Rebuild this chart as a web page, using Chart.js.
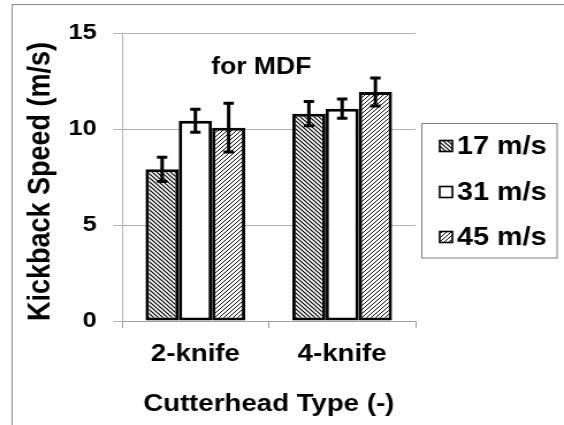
<!DOCTYPE html>
<html>
<head>
<meta charset="utf-8">
<script src="https://cdn.jsdelivr.net/npm/chart.js@4"></script>
<style>
  html, body { margin: 0; padding: 0; background: #fff; }
  /* the source picture is an Excel chart stretched sideways, so draw narrow and stretch */
  #chart { width: 564px; height: 425px; }
</style>
</head>
<body>
<canvas id="chart" width="490" height="425" style="width:564px;height:425px"></canvas>
<script>
// ---------------- data ----------------
const categories = ['2-knife', '4-knife'];
const speedLabels = ['17 m/s', '31 m/s', '45 m/s'];
const mean17 = [7.9, 10.8];
const err17 = [0.63, 0.63];
const mean31 = [10.43, 11.06];
const err31 = [0.6, 0.5];
const mean45 = [10.07, 11.93];
const err45 = [1.27, 0.73];
const yTicks = [0, 5, 10, 15];

const FONT = "'Liberation Sans', Arial, sans-serif";

// hatch fills like the excel patterns
function makeHatch(dir, lw) {
    let c = document.createElement('canvas');
    c.width = 4; c.height = 4;
    let g = c.getContext('2d');
    g.fillStyle = '#fff';
    g.fillRect(0, 0, 4, 4);
    g.strokeStyle = '#000';
    g.lineWidth = lw;
    g.beginPath();
    if (dir === 'down') {
        g.moveTo(-1, -1); g.lineTo(5, 5);
        g.moveTo(-1, 3); g.lineTo(1, 5);
        g.moveTo(3, -1); g.lineTo(5, 1);
    } else {
        g.moveTo(-1, 5); g.lineTo(5, -1);
        g.moveTo(-1, 1); g.lineTo(1, -1);
        g.moveTo(3, 5); g.lineTo(5, 3);
    }
    g.stroke();
    return g.createPattern(c, 'repeat');
}

const fills = [makeHatch('down', 1.15), '#ffffff', makeHatch('up', 0.95)];
const errors = [err17, err31, err45];

// ---------------- plugins ----------------
const framePlugin = {
    id: 'frame',
    beforeDraw(chart) {
        let ctx = chart.ctx;
        ctx.save();
        ctx.fillStyle = '#fff';
        ctx.fillRect(0, 0, chart.width, chart.height);
        ctx.strokeStyle = '#8c8c8c';
        ctx.lineWidth = 1;
        ctx.strokeRect(10.5, 4.5, 600, 500);
        ctx.restore();
    }
};

const errorBarPlugin = {
    id: 'errorBars',
    afterDatasetsDraw(chart) {
        let ctx = chart.ctx;
        let yScale = chart.scales.y;
        ctx.save();
        ctx.strokeStyle = '#000';
        ctx.lineWidth = 3;
        chart.data.datasets.forEach((ds, di) => {
            let meta = chart.getDatasetMeta(di);
            meta.data.forEach((bar, i) => {
                let v = ds.data[i];
                let e = errors[di][i];
                let yTop = yScale.getPixelForValue(v + e);
                let yBot = yScale.getPixelForValue(v - e);
                let x = bar.x;
                ctx.beginPath();
                ctx.moveTo(x, yTop); ctx.lineTo(x, yBot);
                ctx.moveTo(x - 4.5, yTop); ctx.lineTo(x + 4.5, yTop);
                ctx.moveTo(x - 4.5, yBot); ctx.lineTo(x + 4.5, yBot);
                ctx.stroke();
            });
        });
        ctx.restore();
    }
};

const notePlugin = {
    id: 'note',
    afterDraw(chart) {
        let ctx = chart.ctx;
        ctx.save();
        ctx.fillStyle = '#000';
        ctx.font = 'bold 23px ' + FONT;
        ctx.textAlign = 'center';
        ctx.textBaseline = 'alphabetic';
        ctx.fillText('for MDF', 227, 74);
        ctx.restore();
    }
};

// legend box at the right, drawn from the datasets
const legendPlugin = {
    id: 'boxLegend',
    afterDraw(chart) {
        let ctx = chart.ctx;
        ctx.save();
        ctx.strokeStyle = '#808080';
        ctx.lineWidth = 1;
        ctx.strokeRect(366.5, 123.5, 117.5, 134.5);
        let rows = [146, 192, 237];
        ctx.font = 'bold 25px ' + FONT;
        ctx.textBaseline = 'middle';
        ctx.textAlign = 'left';
        chart.data.datasets.forEach((ds, di) => {
            let y = rows[di];
            ctx.fillStyle = ds.backgroundColor;
            ctx.fillRect(382, y - 5.5, 11, 11);
            ctx.strokeStyle = '#000';
            ctx.lineWidth = 1.6;
            ctx.strokeRect(382, y - 5.5, 11, 11);
            ctx.fillStyle = '#000';
            ctx.fillText(ds.label, 397, y + 1);
        });
        ctx.restore();
    }
};

// ---------------- chart ----------------
let ctx = document.getElementById('chart');
let chart = new Chart(ctx, {
    type: 'bar',
    data: {
        labels: categories,
        datasets: [mean17, mean31, mean45].map((values, i) => ({
            label: speedLabels[i],
            data: values,
            backgroundColor: fills[i],
            borderColor: '#000',
            borderWidth: 3,
            borderSkipped: false,
        }))
    },
    options: {
        responsive: false,
        animation: false,
        devicePixelRatio: 1,
        layout: { padding: { top: 33, right: 129, bottom: 0, left: 0 } },
        datasets: {
            bar: { categoryPercentage: 0.68, barPercentage: 1.0 }
        },
        plugins: {
            legend: { display: false },
            tooltip: { enabled: false },
        },
        scales: {
            x: {
                afterFit: (scale) => { scale.height = 104; },
                grid: {
                    drawOnChartArea: false,
                    drawTicks: true,
                    tickLength: 7,
                    color: '#a0a0a0',
                },
                border: { color: '#a0a0a0' },
                ticks: {
                    color: '#000',
                    padding: 12,
                    font: { family: FONT, size: 24, weight: 'bold' },
                },
                title: {
                    display: true,
                    text: 'Cutterhead Type (-)',
                    color: '#000',
                    padding: { top: 0, bottom: 6 },
                    font: { family: FONT, size: 24, weight: 'bold' },
                },
            },
            y: {
                min: 0,
                max: 15,
                afterFit: (scale) => { scale.width = 106; },
                afterBuildTicks: (scale) => {
                    scale.ticks = yTicks.map(v => ({ value: v }));
                },
                grid: {
                    color: '#b4b4b4',
                    tickLength: 8,
                },
                border: { color: '#b4b4b4' },
                ticks: {
                    color: '#000',
                    padding: 14,
                    font: { family: FONT, size: 22, weight: 'bold' },
                },
                title: {
                    display: true,
                    text: 'Kickback Speed (m/s)',
                    align: 'start',
                    color: '#000',
                    padding: { top: 19, bottom: 0 },
                    font: { family: FONT, size: 27, weight: 'bold' },
                },
            },
        },
    },
    plugins: [framePlugin, errorBarPlugin, notePlugin, legendPlugin],
});
</script>
</body>
</html>
